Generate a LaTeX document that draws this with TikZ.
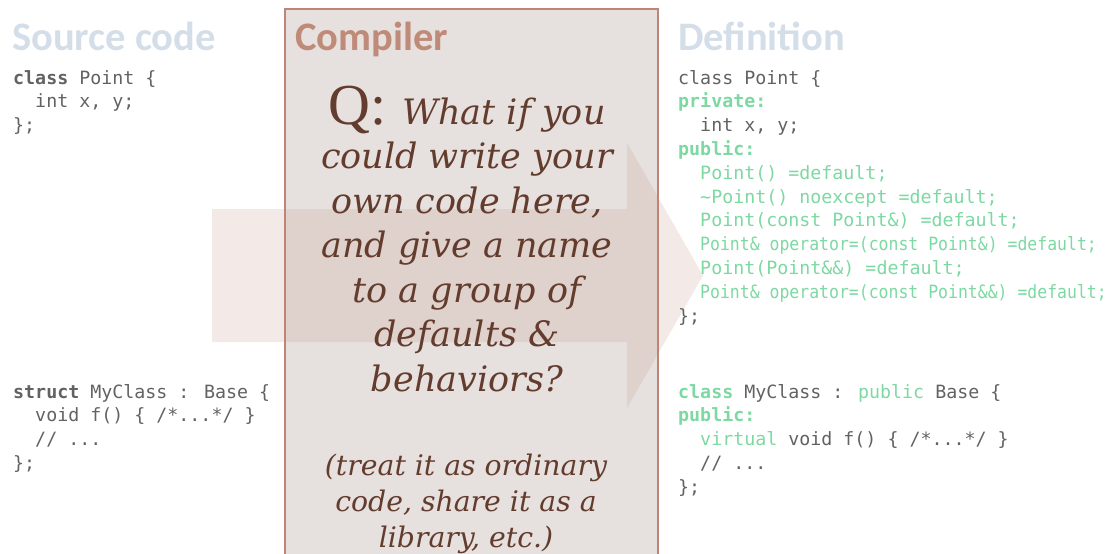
\documentclass[tikz,border=0pt]{standalone}
\usepackage{fontspec}
\usepackage{graphicx}
\newfontfamily\codefont{DejaVu Sans Mono}
\newfontfamily\titlefont{Carlito}
\newfontfamily\qfont{DejaVu Serif}
\newfontfamily\qmark{Liberation Serif}
\definecolor{titlegray}{HTML}{D3DEE8}
\definecolor{compcol}{HTML}{BF8A78}
\definecolor{boxfill}{HTML}{E6E0DE}
\definecolor{boxline}{HTML}{BE8574}
\definecolor{arrowcol}{RGB}{195,150,135}
\definecolor{browntext}{HTML}{633C2E}
\definecolor{codegray}{HTML}{626262}
\definecolor{codegreen}{HTML}{7DD8A2}
\newcommand\cind{\hphantom{xx}}
\newcommand\gb[1]{{\color{codegreen}\bfseries #1}}
\newcommand\gn[1]{{\color{codegreen}#1}}
\tikzset{
  titlestyle/.style={anchor=base west, inner sep=0pt, font=\titlefont\bfseries\fontsize{40.5}{42}\selectfont},
  codestyle/.style={anchor=base west, inner sep=0pt, text=codegray, font=\codefont\fontsize{18.3}{23.8}\selectfont},
  bigtext/.style={anchor=base, inner sep=0pt, text=browntext, font=\qfont\itshape\fontsize{35}{44.5}\selectfont},
  smalltext/.style={anchor=base, inner sep=0pt, text=browntext, font=\qfont\itshape\fontsize{28.3}{36}\selectfont}
}
\begin{document}
\begin{tikzpicture}[x=1pt,y=-1pt]
\useasboundingbox (0,0) rectangle (1111,554);
% compiler box background
\fill[boxfill] (285,9) rectangle (658,600);
% big arrow
\fill[arrowcol, opacity=0.2] (212,209) -- (627,209) -- (627,143) -- (703,275.5) -- (627,408) -- (627,342) -- (212,342) -- cycle;
% box border
\draw[boxline, line width=2pt] (285,9) rectangle (658,600);
% titles
\node[titlestyle, text=titlegray] (srctitle) at (12,50) {Source code};
\node[titlestyle, text=compcol] (comptitle) at (295,50) {Compiler};
\node[titlestyle, text=titlegray] (deftitle) at (678,50) {Definition};
% left code
\node[codestyle] (srcpoint) at (13,84) {\begin{tabular}[t]{@{}l@{}}
\textbf{class} Point \{\\
\cind int x, y;\\
\};
\end{tabular}};
\node[codestyle] (srcmy) at (13,398) {\begin{tabular}[t]{@{}l@{}}
\textbf{struct} MyClass : Base \{\\
\cind void f() \{ /*...*/ \}\\
\cind // ...\\
\};
\end{tabular}};
% right code
\node[codestyle] (defpoint) at (678,84) {\begin{tabular}[t]{@{}l@{}}
class Point \{\\
\gb{private:}\\
\cind int x, y;\\
\gb{public:}\\
\cind\gn{Point() =default;}\\
\cind\gn{\textasciitilde Point() noexcept =default;}\\
\cind\gn{Point(const Point\&) =default;}\\
\cind\gn{\scalebox{0.9}[1]{Point\& operator=(const Point\&) =default;}}\\
\cind\gn{Point(Point\&\&) =default;}\\
\cind\gn{\scalebox{0.9}[1]{Point\& operator=(const Point\&\&) =default;}}\\
\};
\end{tabular}};
\node[codestyle] (defmy) at (678,398) {\begin{tabular}[t]{@{}l@{}}
\gb{class} MyClass : \gn{public} Base \{\\
\gb{public:}\\
\cind\gn{virtual} void f() \{ /*...*/ \}\\
\cind // ...\\
\};
\end{tabular}};
% compiler question
\node[bigtext] (question) at (467,124) {\begin{tabular}[t]{@{}c@{}}
{\qmark\upshape\fontsize{58}{58}\selectfont Q:}\hspace{16pt}What if you\\
could write your\\
own code here,\\
and give a name\\
to a group of\\
defaults \&\\
behaviors?
\end{tabular}};
\node[smalltext] (note) at (466,475) {\begin{tabular}[t]{@{}c@{}}
(treat it as ordinary\\
code, share it as a\\
library, etc.)
\end{tabular}};
\end{tikzpicture}
\end{document}
